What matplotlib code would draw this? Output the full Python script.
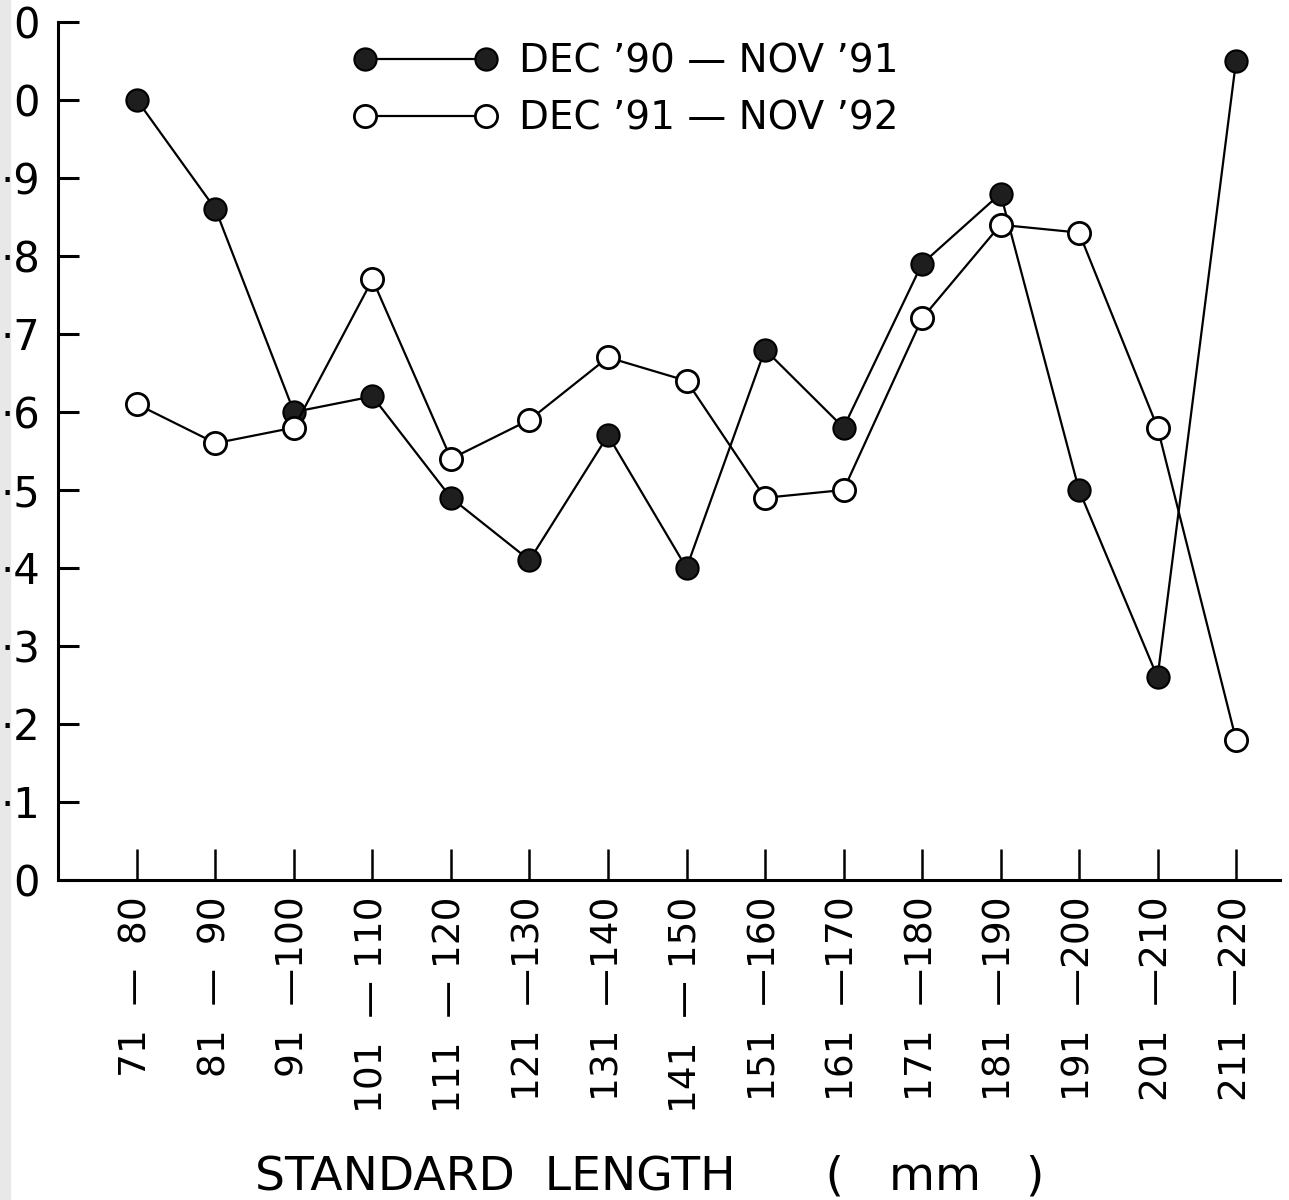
import numpy as np
import matplotlib
matplotlib.use("Agg")
import matplotlib.pyplot as plt
from matplotlib.patches import Rectangle

# size classes (standard length, mm)
classes = ["71  —  80", "81  —  90", "91  —100", "101  — 110", "111  — 120",
           "121  —130", "131  —140", "141  — 150", "151  —160", "161  —170",
           "171  —180", "181  —190", "191  —200", "201  —210", "211  —220"]

# DEC '90 - NOV '91
yr1 = [1.00, 0.86, 0.60, 0.62, 0.49, 0.41, 0.57, 0.40, 0.68, 0.58,
       0.79, 0.88, 0.50, 0.26, 1.05]
# DEC '91 - NOV '92
yr2 = [0.61, 0.56, 0.58, 0.77, 0.54, 0.59, 0.67, 0.64, 0.49, 0.50,
       0.72, 0.84, 0.83, 0.58, 0.18]

yticks = [0, 0.1, 0.2, 0.3, 0.4, 0.5, 0.6, 0.7, 0.8, 0.9, 1.0, 1.1]
ylabels = ["0", "·1", "·2", "·3", "·4", "·5", "·6", "·7", "·8", "·9", "0", "0"]

W, H = 1289, 1200
fig = plt.figure(figsize=(W / 100, H / 100), dpi=100)
ax = fig.add_axes([58 / W, 1 - 880 / H, (1280 - 58) / W, (880 - 22) / H])

x = np.arange(len(classes))
ax.plot(x, yr1, "-o", color="black", lw=1.6, ms=16, mfc="#1e1e1e",
        mec="black", mew=1.5, label="DEC ’90 — NOV ’91", zorder=3)
ax.plot(x, yr2, "-o", color="black", lw=1.6, ms=16, mfc="white",
        mec="black", mew=2.0, label="DEC ’91 — NOV ’92", zorder=3)

ax.set_xlim(-1.006, 14.56)
ax.set_ylim(0, 1.1)

for s in ["top", "right"]:
    ax.spines[s].set_visible(False)
for s in ["left", "bottom"]:
    ax.spines[s].set_linewidth(2.2)

ax.set_yticks(yticks)
ax.set_yticklabels(ylabels, fontsize=30)
ax.tick_params(axis="y", direction="in", length=15, width=2.2, pad=13)

ax.set_xticks(x)
ax.set_xticklabels(classes, rotation=90, fontsize=27, va="top", ha="center")
ax.tick_params(axis="x", direction="in", length=22, width=1.8, pad=12)

leg = ax.legend(loc="upper left", bbox_to_anchor=(334 / W, 1 - 23 / H),
                bbox_transform=fig.transFigure, frameon=False, numpoints=2,
                fontsize=28, handlelength=3.7, handletextpad=0.55,
                labelspacing=0.5, borderpad=0)

fig.text(650 / W, 1 - 1177 / H, "STANDARD  LENGTH      (   mm   )",
         fontsize=34, ha="center", va="center")

# scanned page edge on the left, kept behind the axes
fig.patches.append(Rectangle((0, 0), 10 / W, 1, transform=fig.transFigure,
                             color="#e8e8e8", zorder=-1))

fig.savefig("out.png", dpi=100)
